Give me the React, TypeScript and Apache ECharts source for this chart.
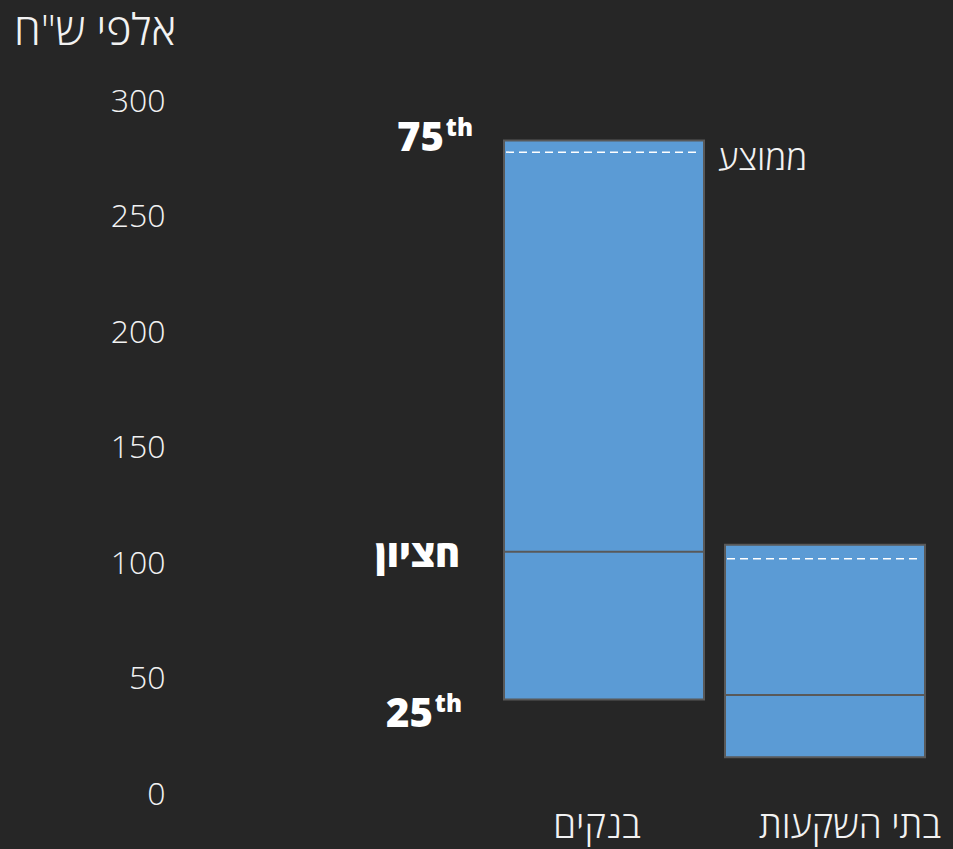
import React, { useEffect, useRef } from "react";
import * as echarts from "echarts";

const categories = ["בנקים", "בתי השקעות"];
const q25Values = [40, 15];
const medianValues = [104, 42];
const q75Values = [282, 107];
const meanValues = [277, 101];
const yTicks = [0, 50, 100, 150, 200, 250, 300];
const unitTitle = 'אלפי ש"ח';
const meanLabel = "ממוצע";
const medianLabel = "חציון";
const pctLabels = ["75", "25"];
const pctSuffix = "th";

const FONT = '"Open Sans", "DejaVu Sans", sans-serif';
const TXT = "#f2f2f2";

export default function App() {
  const ref = useRef<HTMLDivElement>(null);
  useEffect(() => {
    if (!ref.current) return;
    const chart = echarts.init(ref.current, null, { renderer: "svg" });
    const data = categories.map((_, i) => [i, q25Values[i], medianValues[i], q75Values[i], meanValues[i]]);
    chart.setOption({
      animation: false,
      backgroundColor: "#262626",
      grid: { left: 493.5, right: 17.5, top: 99, bottom: 57 },
      graphic: [
        {
          type: "text",
          left: 14,
          top: 7,
          style: { text: unitTitle, fill: TXT, font: `300 43px ${FONT}` },
        },
      ],
      xAxis: {
        type: "category",
        data: [
          { value: categories[0], textStyle: { padding: [0, 14, 0, 0] } },
          { value: categories[1], textStyle: { padding: [0, 0, 0, 50] } },
        ],
        axisLine: { show: false },
        axisTick: { show: false },
        axisLabel: { color: TXT, fontSize: 37, lineHeight: 37, fontWeight: 300, fontFamily: FONT, margin: 13, interval: 0 },
      },
      yAxis: {
        type: "value",
        min: yTicks[0],
        max: yTicks[yTicks.length - 1],
        interval: 50,
        splitLine: { show: false },
        axisLine: { show: false },
        axisTick: { show: false },
        axisLabel: { color: TXT, fontSize: 32, fontWeight: 300, fontFamily: FONT, margin: 328 },
      },
      series: [
        {
          type: "custom",
          data,
          encode: { x: 0, y: [1, 2, 3, 4] },
          renderItem: (params: any, api: any) => {
            const idx = api.value(0);
            const q25 = api.value(1);
            const med = api.value(2);
            const q75 = api.value(3);
            const mean = api.value(4);
            const [cx, yTop] = api.coord([idx, q75]);
            const yBot = api.coord([idx, q25])[1];
            const yMed = api.coord([idx, med])[1];
            const yMean = api.coord([idx, mean])[1];
            const bw = api.size([1, 0])[0] * 0.905;
            const x0 = cx - bw / 2;
            const children: any[] = [
              {
                type: "rect",
                shape: { x: x0, y: yTop, width: bw, height: yBot - yTop },
                style: { fill: "#5b9bd5", stroke: "#595959", lineWidth: 2 },
              },
              {
                type: "line",
                shape: { x1: x0, y1: yMed, x2: x0 + bw, y2: yMed },
                style: { stroke: "#595959", lineWidth: 2 },
              },
              {
                type: "line",
                shape: { x1: x0 + 2, y1: yMean, x2: x0 + bw - 4, y2: yMean },
                style: { stroke: "#ffffff", lineWidth: 1.5, lineDash: [8, 5] },
              },
            ];
            if (params.dataIndex === 0) {
              const bold = `800 40px ${FONT}`;
              const small = `800 24px ${FONT}`;
              children.push(
                { type: "text", x: x0 - 31, y: yTop - 14, style: { text: pctSuffix, fill: "#fff", font: small, align: "right", verticalAlign: "middle" } },
                { type: "text", x: x0 - 60, y: yTop - 5, style: { text: pctLabels[0], fill: "#fff", font: bold, align: "right", verticalAlign: "middle" } },
                { type: "text", x: x0 - 44, y: yMed, style: { text: medianLabel, fill: "#fff", font: `800 38px ${FONT}`, align: "right", verticalAlign: "middle" } },
                { type: "text", x: x0 - 42, y: yBot + 3, style: { text: pctSuffix, fill: "#fff", font: small, align: "right", verticalAlign: "middle" } },
                { type: "text", x: x0 - 71, y: yBot + 12, style: { text: pctLabels[1], fill: "#fff", font: bold, align: "right", verticalAlign: "middle" } },
                { type: "text", x: x0 + bw + 14, y: yMean + 4, style: { text: meanLabel, fill: TXT, font: `300 35px ${FONT}`, align: "left", verticalAlign: "middle" } }
              );
            }
            return { type: "group", children };
          },
        },
      ],
    });
    return () => chart.dispose();
  }, []);
  return <div ref={ref} style={{ width: 953, height: 849, position: "fixed", left: 0, top: 0 }} />;
}
